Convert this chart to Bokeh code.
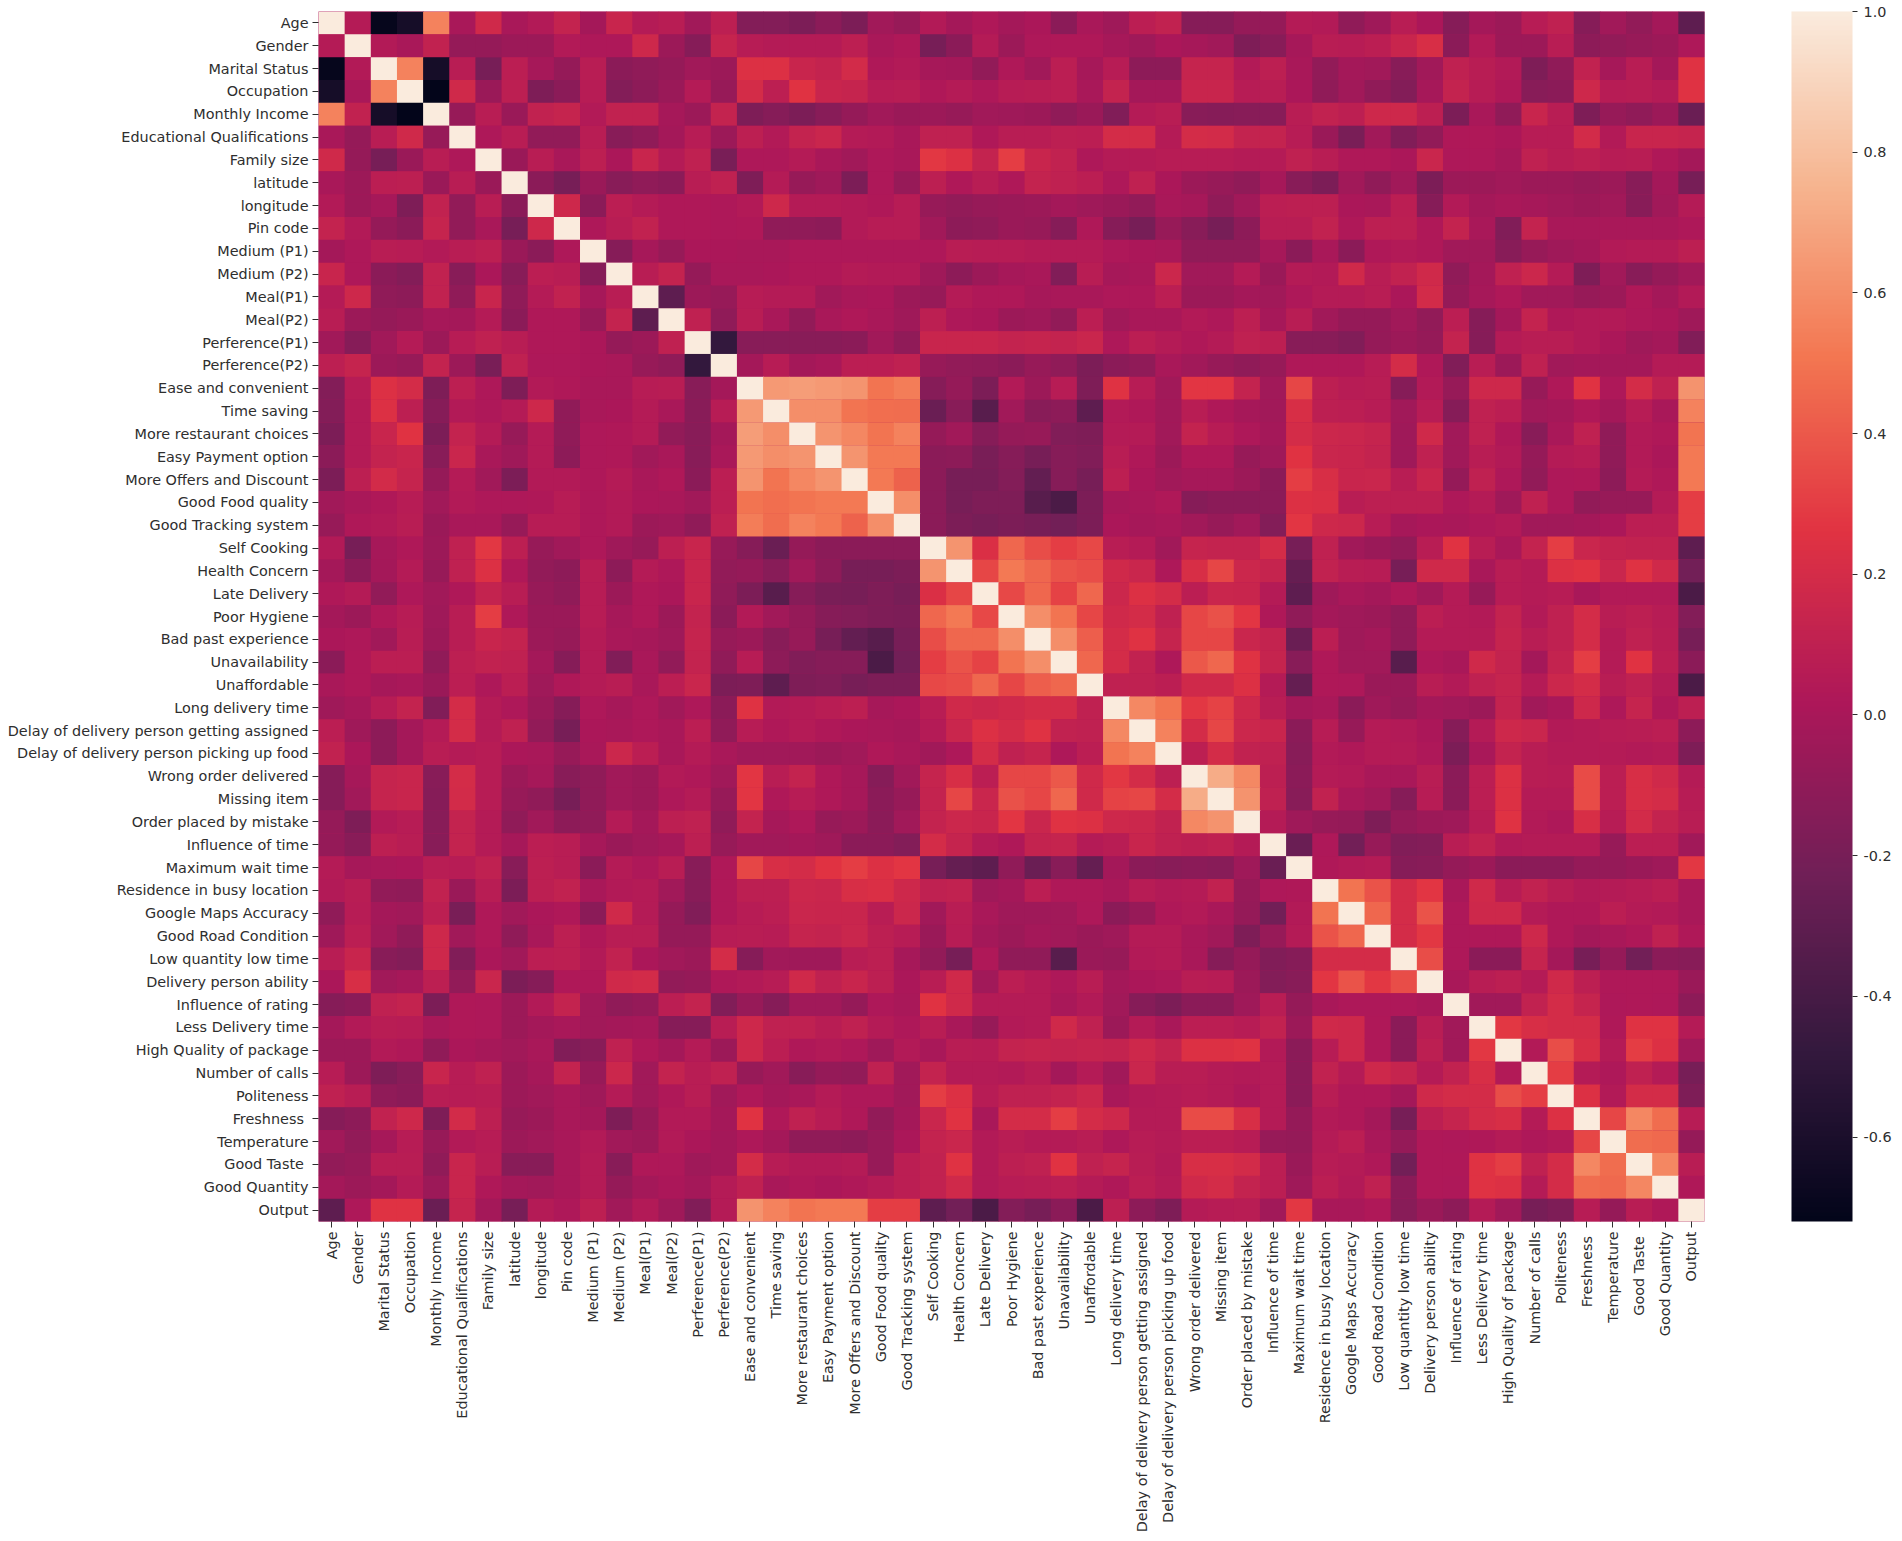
from bokeh.plotting import figure
from bokeh.models import ColumnDataSource, LinearColorMapper, ColorBar, FixedTicker, FactorRange, PrintfTickFormatter
from bokeh.embed import file_html
from bokeh.resources import INLINE

labels = ["Age","Gender","Marital Status","Occupation","Monthly Income","Educational Qualifications","Family size","latitude","longitude","Pin code","Medium (P1)","Medium (P2)","Meal(P1)","Meal(P2)","Perference(P1)","Perference(P2)","Ease and convenient","Time saving","More restaurant choices","Easy Payment option","More Offers and Discount","Good Food quality","Good Tracking system","Self Cooking","Health Concern","Late Delivery","Poor Hygiene","Bad past experience","Unavailability","Unaffordable","Long delivery time","Delay of delivery person getting assigned","Delay of delivery person picking up food","Wrong order delivered","Missing item","Order placed by mistake","Influence of time","Maximum wait time","Residence in busy location","Google Maps Accuracy","Good Road Condition","Low quantity low time","Delivery person ability","Influence of rating","Less Delivery time","High Quality of package","Number of calls","Politeness","Freshness ","Temperature","Good Taste ","Good Quantity","Output"]

# Upper triangle of the correlation matrix: each row starts just right of the diagonal.
r00 = [.05,-.70,-.62,.55,0,.18,0,.04,.12,-.02,.14,.05,.07,-.03,.09,-.15,-.15,-.18,-.12,-.18,-.03,-.07,.04,-.02,.03,-.02,.01,-.12,0,-.04,.08,.11,-.14,-.14,-.08,-.08,.05,.04,-.10,-.04,.07,.01,-.14,-.02,-.05,.06,.10,-.14,-.03,-.09,-.02,-.30]
r01 = [.04,0,.11,-.08,-.08,-.05,-.05,.04,.02,.02,.17,-.05,-.14,.13,.06,.05,.05,.05,.09,0,.03,-.20,-.12,.05,-.05,.02,.03,.03,-.01,-.04,.01,-.01,-.03,-.17,-.13,-.01,.07,.06,.08,.14,.22,-.12,.04,-.05,-.05,.07,-.11,-.09,-.07,-.05,.02]
r02 = [.55,-.62,.07,-.20,.08,-.01,-.08,.07,-.12,-.10,-.08,-.03,-.05,.24,.24,.14,.12,.19,.03,.04,-.01,-.02,-.09,.03,-.03,.08,-.01,.06,-.11,-.11,.13,.13,.04,.09,0,-.09,-.02,-.03,-.13,-.03,.10,.07,.04,-.17,-.10,.11,-.01,.07,-.02,.25]
r03 = [-.72,.18,-.06,.09,-.17,-.12,.06,-.15,-.11,-.06,.05,-.07,.20,.09,.26,.14,.13,.06,.07,.03,.05,.02,.06,.07,.08,0,.12,-.02,-.02,.14,.14,.06,.07,.01,-.10,-.03,-.10,-.15,-.01,.12,.06,.03,-.13,-.12,.17,.06,.07,.05,.25]
r04 = [-.07,.07,-.06,.11,.13,.04,.11,.11,-.01,-.05,.12,-.17,-.14,-.18,-.13,-.08,-.03,-.06,-.05,-.07,-.03,-.04,-.05,-.10,-.06,-.16,.05,.07,-.13,-.14,-.13,-.13,.07,.11,.09,.17,.17,.09,-.18,0,-.10,.14,.07,-.17,-.07,-.10,-.05,-.25]
r05 = [.02,.07,-.09,-.09,.07,-.13,-.10,-.02,.06,-.05,.09,.04,.12,.15,.05,.04,0,.10,.10,.03,.07,.07,.09,.08,.20,.20,.05,.20,.19,.12,.12,.06,-.06,-.19,-.03,-.16,-.09,.03,.03,.01,.06,.06,.19,.04,.14,.14,.13]
r06 = [-.06,.07,0,.09,.01,.14,.05,.10,-.19,.02,.02,.05,0,-.03,.02,0,.28,.24,.12,.30,.14,.11,.02,.05,.05,.06,.06,.06,.05,.05,.10,.07,.03,.03,.01,.15,.02,.02,-.01,.10,.07,.09,.06,.07,.03,-.02]
r07 = [-.12,-.20,-.06,-.13,-.10,-.12,.07,.10,-.17,.05,-.07,-.04,-.18,.02,-.07,.09,.03,.07,.03,.12,.10,.08,.02,.10,.01,-.05,-.07,-.10,-.01,-.13,-.18,-.03,-.10,-.03,-.18,-.05,-.05,-.03,-.05,-.05,-.07,-.05,-.13,-.02,-.20]
r08 = [.17,-.12,.08,.05,.03,.03,.02,.04,.17,.05,.05,.04,.03,.06,-.07,-.09,-.07,-.06,-.05,-.02,-.04,-.06,-.09,0,-.01,-.10,-.03,.08,.09,.09,.01,0,.08,-.14,.04,-.02,0,-.01,-.03,-.05,-.03,-.13,-.03,.05]
r09 = [.02,.07,.11,.03,.03,.02,.03,-.10,-.10,-.11,.04,.06,.06,-.03,-.11,-.10,-.06,-.07,-.14,.03,-.14,-.20,-.07,-.13,-.20,-.11,.07,.07,.11,.03,.09,.09,.03,.12,0,-.16,.12,0,0,0,0,0,.02]
r10 = [-.14,-.01,-.07,.01,.01,0,0,.02,.02,.02,.02,.02,.02,.07,.06,.06,.05,.05,.05,.02,.01,0,-.10,-.10,-.10,-.01,-.12,0,-.12,.03,.04,.03,-.03,-.03,-.13,-.07,-.04,-.02,.04,.05,.05,.09]
r11 = [.07,.12,-.08,0,0,.01,.03,.03,.05,.04,.04,-.04,-.11,-.05,-.01,0,-.16,.07,-.01,0,.16,-.03,-.03,.05,-.06,.05,.04,.18,.07,.11,.18,-.10,-.02,.10,.16,.05,-.17,-.03,-.13,-.08,-.03]
r12 = [-.30,-.05,-.07,.06,.05,.05,-.03,0,.01,-.05,-.07,.05,.03,.03,-.01,0,0,.02,.02,.08,-.05,-.05,-.02,-.03,.02,.05,.05,.07,.01,.19,-.08,-.01,.03,-.03,-.03,-.07,-.05,.03,-.02,.04]
r13 = [.10,-.10,.07,0,-.09,0,.03,0,-.04,.09,.02,.01,-.05,-.04,-.09,.08,-.03,0,0,.04,.02,.09,-.01,.07,-.03,-.08,-.08,-.03,-.09,.08,-.14,-.02,.12,.03,.04,.04,.02,.01,-.04]
r14 = [-.48,-.13,-.13,-.13,-.13,-.12,-.03,-.10,.14,.14,.14,.12,.13,.12,.15,.02,.08,.05,.03,.05,.10,.09,-.13,-.13,-.16,-.08,-.05,-.08,.12,-.14,.05,.07,.07,.04,.01,-.04,-.02,-.16]
r15 = [-.02,.06,-.02,0,.08,.08,.10,-.07,-.09,-.10,-.12,-.07,-.10,-.18,-.12,-.10,0,-.03,-.07,-.10,-.07,.03,.03,.03,.06,.20,.03,-.16,.07,-.05,.10,-.03,-.02,-.02,-.02,.05,.05]
r16 = [.65,.66,.65,.63,.50,.53,-.14,-.08,-.18,.04,-.05,.06,-.17,.25,.06,-.03,.27,.27,.12,-.03,.33,.09,.06,.07,-.14,.04,-.07,.17,.17,-.07,.03,.26,.02,.20,.10,.62]
r17 = [.60,.60,.50,.48,.47,-.25,-.13,-.33,-.03,-.13,-.11,-.30,.04,.03,-.03,.07,.03,-.01,-.03,.22,.09,.08,.06,-.03,.06,-.14,.10,.08,-.03,-.02,.03,-.02,.06,0,.55]
r18 = [.63,.57,.50,.55,-.08,-.03,-.14,-.08,-.07,-.16,-.17,.05,.05,-.03,.12,.06,.02,-.02,.20,.16,.15,.13,-.04,.18,-.03,.10,.03,-.13,0,.10,-.10,.04,.03,.50]
r19 = [.63,.52,.52,-.12,-.11,-.19,-.14,-.20,-.14,-.16,.07,.03,-.05,.03,.03,-.07,-.04,.26,.15,.14,.12,-.04,.10,-.03,.07,.04,-.08,.05,.06,-.10,.04,.01,.52]
r20 = [.52,.43,-.12,-.20,-.20,-.15,-.28,-.14,-.20,.09,.01,-.03,-.01,-.01,-.05,-.12,.30,.22,.14,.15,.07,.14,-.08,.10,.02,-.09,.02,.03,-.11,.05,.03,.52]
r21 = [.60,-.12,-.20,-.17,-.17,-.33,-.38,-.18,-.01,0,.03,-.14,-.12,-.12,-.12,.24,.23,.07,.09,.09,.09,.02,.05,-.04,.10,.02,-.09,-.07,-.07,.05,.30]
r22 = [-.12,-.18,-.20,-.18,-.20,-.22,-.18,.01,-.01,0,-.03,-.07,-.03,-.15,.27,.17,.16,.06,-.01,.01,0,.02,.04,-.03,-.03,-.02,.01,.08,.08,.30]
r23 = [.63,.23,.45,.36,.30,.34,.07,.05,-.03,.13,.12,.12,.20,-.20,.10,-.03,-.06,-.09,.07,.26,.07,0,.12,.30,.15,.12,.11,.11,-.30]
r24 = [.33,.52,.45,.38,.36,.18,.15,.02,.22,.33,.16,.13,-.27,.11,.07,.06,-.20,.18,.18,0,.07,.05,.24,.26,.15,.25,.18,-.22]
r25 = [.34,.45,.32,.45,.16,.24,.20,.08,.15,.14,.05,-.30,-.04,0,-.02,.03,-.03,.05,-.07,.06,.05,.06,0,.04,.04,.04,-.38]
r26 = [.60,.50,.33,.18,.20,.10,.33,.37,.27,.03,-.10,-.02,-.04,-.05,-.10,.08,.05,.04,.12,.04,.10,.20,.07,.09,.06,-.15]
r27 = [.60,.42,.20,.25,.13,.33,.33,.15,.12,-.25,.08,-.04,-.02,-.10,.05,.05,.05,.13,.07,.10,.20,.05,.10,.07,-.20]
r28 = [.45,.20,.11,.02,.40,.45,.25,.13,-.13,.03,-.03,-.03,-.33,.02,0,.18,.12,-.02,.12,.30,.05,.26,.08,-.12]
r29 = [.10,.10,.08,.18,.18,.24,.05,-.27,.03,.02,-.06,-.06,.07,.04,.10,.13,.05,.16,.20,.07,.10,.05,-.38]
r30 = [.58,.50,.28,.32,.17,.07,-.02,0,-.12,-.04,-.07,-.02,-.03,-.05,.12,-.03,0,.17,.02,.13,.03,.09]
r31 = [.55,.20,.33,.16,.14,-.12,.06,-.07,.05,.04,.01,-.14,.05,.17,.15,.04,.05,.06,.07,.08,-.11]
r32 = [.09,.20,.11,.10,-.13,.04,.03,.05,.05,.02,-.18,0,.12,.07,.05,.05,.05,.04,.05,-.17]
r33 = [.72,.58,.09,-.12,.05,.04,0,0,.07,-.12,.08,.24,.07,.06,.35,.08,.22,.18,.05]
r34 = [.62,.10,-.13,.11,0,-.03,-.14,.06,-.12,.08,.24,.05,.05,.35,.08,.22,.20,.06]
r35 = [.05,-.04,-.07,-.08,-.17,-.08,-.05,-.04,.06,.25,.04,.02,.22,.06,.19,.12,.07]
r36 = [-.25,.02,-.22,-.07,-.16,-.15,.07,.11,.04,.05,.05,.05,-.07,.08,.08,-.03]
r37 = [.03,.04,.05,-.14,-.13,-.08,-.05,-.12,-.12,-.12,-.08,-.08,-.06,-.04,.28]
r38 = [.50,.38,.20,.27,0,.18,.06,.11,.07,.04,.05,.06,.08,0]
r39 = [.45,.20,.38,.02,.17,.17,.05,.03,.03,.08,.05,.04,0]
r40 = [.20,.28,.02,.03,.03,.17,.03,-.02,0,.03,.10,.03]
r41 = [.36,.02,-.12,-.12,.13,-.02,-.20,-.08,-.22,-.12,-.13]
r42 = [0,.07,.09,.05,.18,.09,.03,.03,.03,-.06]
r43 = [-.03,-.03,.11,.20,.13,.02,.03,.02,-.11]
r44 = [.28,.22,.20,.20,.03,.25,.25,.05]
r45 = [.04,.36,.22,.05,.30,.24,-.03]
r46 = [.30,.05,.02,.10,.05,-.20]
r47 = [.24,.04,.20,.20,-.17]
r48 = [.33,.57,.47,.06]
r49 = [.47,.46,-.08]
r50 = [.57,.07]
r51 = [.03]
upper = [r00,r01,r02,r03,r04,r05,r06,r07,r08,r09,r10,r11,r12,r13,r14,r15,r16,r17,r18,r19,r20,r21,r22,r23,r24,r25,r26,r27,r28,r29,r30,r31,r32,r33,r34,r35,r36,r37,r38,r39,r40,r41,r42,r43,r44,r45,r46,r47,r48,r49,r50,r51]

colorbar_ticks = [-0.6,-0.4,-0.2,0.0,0.2,0.4,0.6,0.8,1.0]
vmin, vmax = -0.72, 1.0

n = len(labels)
for i, row in enumerate(upper):
    assert len(row) == n - 1 - i, (i, len(row), n - 1 - i)

xs, ys, vals = [], [], []
for i in range(n):
    xs.append(labels[i]); ys.append(labels[i]); vals.append(1.0)
    for k, v in enumerate(upper[i] if i < n - 1 else []):
        j = i + 1 + k
        xs += [labels[j], labels[i]]
        ys += [labels[i], labels[j]]
        vals += [v, v]

anchors = ["#03051a","#35193e","#701f57","#ad1759","#e13342","#f37651","#f6b48f","#faebdd"]
def rgb(h): return [int(h[i:i+2],16) for i in (1,3,5)]
palette = []
for k in range(256):
    t = k/255*(len(anchors)-1)
    a = min(int(t), len(anchors)-2)
    f = t-a
    c = [round(u+(w-u)*f) for u,w in zip(rgb(anchors[a]),rgb(anchors[a+1]))]
    palette.append("#%02x%02x%02x" % tuple(c))

mapper = LinearColorMapper(palette=palette, low=vmin, high=vmax)
src = ColumnDataSource(dict(x=xs, y=ys, v=vals))

p = figure(x_range=FactorRange(factors=labels, range_padding=0),
           y_range=FactorRange(factors=labels[::-1], range_padding=0),
           frame_width=1386, frame_height=1210, output_backend="svg",
           toolbar_location=None, min_border_left=318, min_border_top=11,
           min_border_bottom=0, min_border_right=190, outline_line_color=None,
           background_fill_color="#ad1759")
p.rect("x","y",1,1,source=src,fill_color={"field":"v","transform":mapper},
       line_color=None,dilate=True)
p.grid.visible = False
for ax in (p.xaxis[0], p.yaxis[0]):
    ax.axis_line_color = None
    ax.major_tick_in = 0
    ax.major_tick_out = 6
    ax.major_tick_line_color = "#2e2e2e"
    ax.major_tick_line_width = 1
    ax.major_label_text_font = "DejaVu Sans"
    ax.major_label_text_font_size = "14.4px"
    ax.major_label_text_color = "#2e2e2e"
    ax.major_label_standoff = 4
p.xaxis[0].major_label_orientation = 1.5707963

cb = ColorBar(color_mapper=mapper, ticker=FixedTicker(ticks=colorbar_ticks),
              formatter=PrintfTickFormatter(format="%.1f"),
              width=61, height=1210, padding=0, margin=0, location=(87,0),
              major_tick_in=0, major_tick_out=5, major_tick_line_color="#2e2e2e",
              major_label_text_font="DejaVu Sans", major_label_text_font_size="14.4px",
              major_label_text_color="#2e2e2e", label_standoff=6, bar_line_color=None,
              border_line_color=None, background_fill_color=None)
p.add_layout(cb, "right")

open("out.html","w").write(file_html(p, INLINE))
